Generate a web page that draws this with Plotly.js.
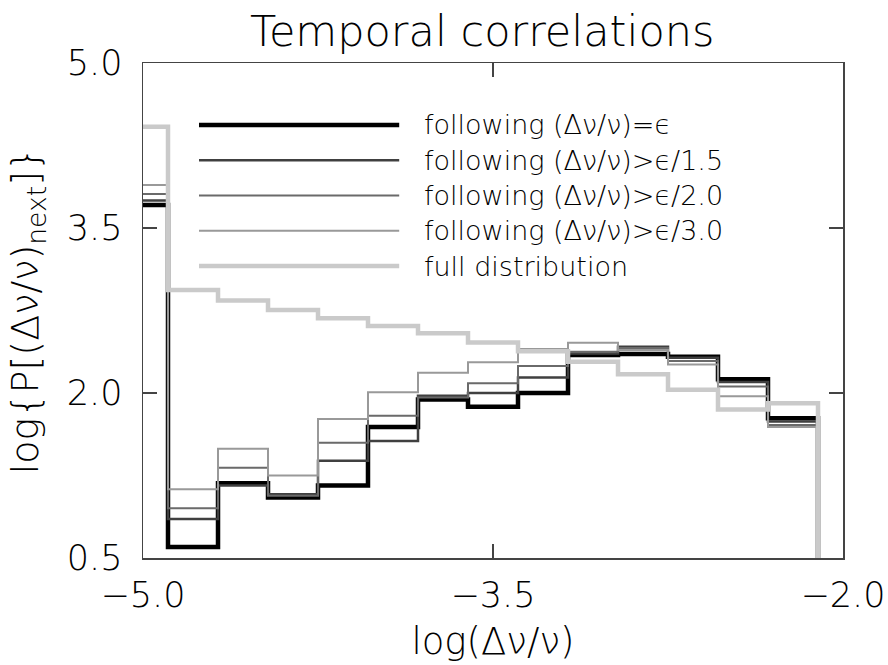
<!DOCTYPE html>
<html>
<head>
<meta charset="utf-8">
<script src="https://cdn.plot.ly/plotly-3.0.1.min.js"></script>
<style>html,body{margin:0;padding:0;background:#fff;}#chart{width:888px;height:665px;}</style>
</head>
<body>
<div id="chart"></div>
<script>
// Bin centres log(Δν/ν)
const xCenters = [-5.0, -4.7857, -4.5714, -4.3571, -4.1429, -3.9286, -3.7143, -3.5, -3.2857, -3.0714, -2.8571, -2.6429, -2.4286, -2.2143, -2.0];

// log P values for each series
const followEq   = [3.71, 0.60, 1.18, 1.05, 1.16, 1.69, 1.94, 1.875, 2.00, 2.345, 2.355, 2.33, 2.125, 1.77, 0];
const follow15   = [3.75, 0.855, 1.16, 1.08, 1.385, 1.564, 1.975, 2.00, 2.14, 2.36, 2.42, 2.32, 2.10, 1.74, 0];
const follow20   = [3.81, 0.952, 1.321, 1.065, 1.548, 1.794, 1.96, 2.088, 2.245, 2.375, 2.41, 2.29, 2.06, 1.71, 0];
const follow30   = [3.89, 1.125, 1.494, 1.25, 1.764, 2.006, 2.185, 2.28, 2.40, 2.457, 2.39, 2.26, 1.97, 1.69, 0];
const fullDist   = [4.42, 2.936, 2.84, 2.755, 2.68, 2.61, 2.543, 2.46, 2.38, 2.285, 2.17, 2.03, 1.85, 1.906, 0];

const seriesNames = [
  "following (Δν/ν)=ϵ",
  "following (Δν/ν)>ϵ/1.5",
  "following (Δν/ν)>ϵ/2.0",
  "following (Δν/ν)>ϵ/3.0",
  "full distribution"
];
const seriesData = [followEq, follow15, follow20, follow30, fullDist];
const seriesColors = ["#000000", "#404040", "#6a6a6a", "#999999", "#cacaca"];
const seriesWidths = [4.5, 2.5, 2, 2, 4.5];

const xTicks = [-5.0, -3.5, -2.0];
const xTickText = ["−5.0", "−3.5", "−2.0"];
const yTicks = [0.5, 2.0, 3.5, 5.0];
const yTickText = ["0.5", "2.0", "3.5", "5.0"];

const FONT = "DejaVu Sans, sans-serif";

const traces = seriesData.map((ys, i) => ({
  x: xCenters, y: ys, type: "scatter", mode: "lines",
  line: {shape: "hvh", color: seriesColors[i], width: seriesWidths[i]},
  name: seriesNames[i], showlegend: false, hoverinfo: "skip"
}));

// Manual long-sample legend
const legX0 = 0.08, legX1 = 0.366, legTextX = 0.399, legY0 = 0.875, legDy = 0.0713;
const shapes = [];
const annotations = [];
seriesNames.forEach((nm, i) => {
  const yy = legY0 - i * legDy;
  shapes.push({type: "line", xref: "paper", yref: "paper", x0: legX0, x1: legX1, y0: yy, y1: yy,
    line: {color: seriesColors[i], width: seriesWidths[i]}});
  annotations.push({xref: "paper", yref: "paper", x: legTextX, y: yy, xanchor: "left", yanchor: "middle",
    text: nm, showarrow: false, font: {family: FONT, size: 27, color: "#000", weight: 300}});
});

const axisCommon = {
  showline: true, linecolor: "#444", linewidth: 1.5, mirror: "ticks",
  ticks: "inside", ticklen: 14, tickwidth: 1.5, tickcolor: "#444",
  showgrid: false, zeroline: false,
  tickfont: {family: FONT, size: 35, color: "#000", weight: 300}
};

const layout = {
  width: 888, height: 665,
  margin: {l: 143, r: 45, t: 63, b: 107},
  paper_bgcolor: "#fff", plot_bgcolor: "#fff",
  title: {text: "Temporal correlations", x: 0.543, xref: "container", xanchor: "center",
    y: 0.953, yref: "container", yanchor: "middle",
    font: {family: FONT, size: 43, color: "#000", weight: 300}},
  xaxis: Object.assign({}, axisCommon, {
    range: [-5.0, -2.0], tickvals: xTicks, ticktext: xTickText, ticklabelstandoff: 5,
    title: {text: "log(Δν/ν)", standoff: 14, font: {family: FONT, size: 37, color: "#000", weight: 300}}
  }),
  yaxis: Object.assign({}, axisCommon, {
    range: [0.5, 5.0], tickvals: yTicks, ticktext: yTickText, ticklabelstandoff: 12,
    title: {text: "log{P[(Δν/ν)<sub>next</sub>]}", standoff: 16, font: {family: FONT, size: 38, color: "#000", weight: 300}}
  }),
  shapes: shapes,
  annotations: annotations,
  showlegend: false
};

Plotly.newPlot("chart", traces, layout, {staticPlot: true, displayModeBar: false});
</script>
</body>
</html>
